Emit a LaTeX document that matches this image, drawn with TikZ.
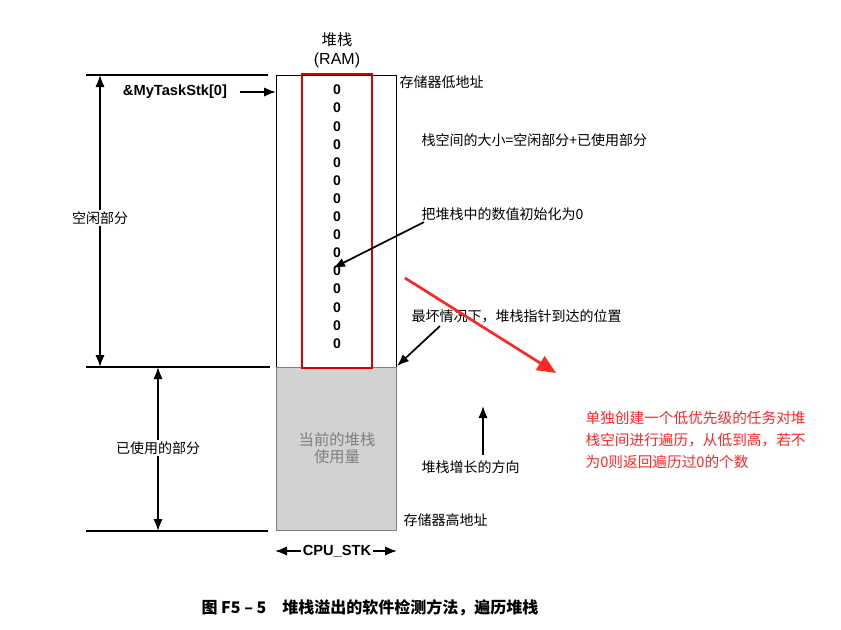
\documentclass[tikz,border=0pt]{standalone}
\usepackage{fontspec}
\setmainfont{Liberation Sans}
\newfontfamily\cjk{Noto Sans CJK SC}
\usetikzlibrary{arrows.meta}
\tikzset{
  lbl/.style={font=\cjk\fontsize{10.5}{12}\selectfont, inner sep=1pt},
  dim/.style={line width=1.3pt, {Latex[length=9pt,width=7pt]}-{Latex[length=9pt,width=7pt]}},
  ptr/.style={line width=1.3pt, -{Latex[length=9pt,width=7pt]}}
}
\begin{document}
\begin{tikzpicture}[x=0.75pt,y=-0.75pt]
        \useasboundingbox (0,0) rectangle (841,629);

        % stack body
        \fill[gray!35] (276,367) rectangle (396,530);
        \draw[gray] (276,367) rectangle (396,530);
        \draw (276,367) -- (276,75) -- (396,75) -- (396,367);
        \draw[red!85!black, line width=1.5pt] (302,74) rectangle (372,368);
        \foreach \k in {0,...,14}
          \node[font=\bfseries\fontsize{10.5}{12}\selectfont] at (337,{90+\k*18.1}) {0};
        \node (used) [lbl, text=gray, align=center, font=\cjk\fontsize{11.5}{13}\selectfont] at (337,448) {当前的堆栈\\使用量};

        \node (top) [lbl, font=\cjk\fontsize{11.5}{13}\selectfont] at (337,40) {堆栈};
        \node (ram) [font=\fontsize{12}{14}\selectfont] at (337,60) {(RAM)};

        % dimension lines
        \coordinate (t0) at (86,75);  \coordinate (t1) at (268,75);
        \coordinate (m0) at (86,367); \coordinate (m1) at (270,367);
        \coordinate (b0) at (86,531); \coordinate (b1) at (268,531);
        \draw[line width=1.3pt] (t0) -- (t1);
        \draw[line width=1.3pt] (m0) -- (m1);
        \draw[line width=1.3pt] (b0) -- (b1);
        \coordinate (fa) at (100,75); \coordinate (fb) at (100,367);
        \coordinate (ua) at (158,367); \coordinate (ub) at (158,531);
        \draw[dim] (fa) -- (fb);
        \draw[dim] (ua) -- (ub);
        \node (free) [lbl, fill=white] at (100,218) {空闲部分};
        \node (usedpart) [lbl, fill=white] at (158,448) {已使用的部分};

        \node (base) [font=\bfseries\fontsize{11}{12}\selectfont] at (175,92) {\&MyTaskStk[0]};
        \coordinate (bx) at (276,92);
        \draw[ptr] (base.east) ++(6pt,0) -- (bx);

        % notes on the right
        \node (low) [lbl, anchor=west] at (398,82) {存储器低地址};
        \node (size) [lbl, anchor=west] at (420,140) {栈空间的大小=空闲部分+已使用部分};
        \node (init) [lbl, anchor=west] at (420,214) {把堆栈中的数值初始化为0};
        \coordinate (ix) at (333,268);
        \draw[ptr] (init.south west) ++(3pt,0) -- (ix);
        \node (worst) [lbl, anchor=west] at (410,316) {最坏情况下，堆栈指针到达的位置};
        \coordinate (wx) at (397,366);
        \draw[ptr] (440,326) -- (wx);
        \coordinate (ga) at (483,455); \coordinate (gb) at (483,406);
        \draw[ptr] (ga) -- (gb);
        \node (grow) [lbl, anchor=west] at (420,467) {堆栈增长的方向};
        \node (high) [lbl, anchor=west] at (402,520) {存储器高地址};

        % width
        \node (cpu) [font=\bfseries\fontsize{11}{12}\selectfont, inner sep=1pt] at (337,551) {CPU\_STK};
        \coordinate (cl) at (275,551); \coordinate (cr) at (397,551);
        \draw[ptr] (cpu.west) -- (cl);
        \draw[ptr] (cpu.east) -- (cr);

        % annotation
        \coordinate (ra) at (405,278); \coordinate (rb) at (556,373);
        \draw[red!85!white, line width=2pt, -{Triangle[length=14pt,width=12pt]}] (ra) -- (rb);
        \node (note) [lbl, text=red!85!white, align=left, anchor=north west,
          font=\cjk\fontsize{11}{16.5}\selectfont] at (584,410)
          {单独创建一个低优先级的任务对堆\\栈空间进行遍历，从低到高，若不\\为0则返回遍历过0的个数};

        \node (cap) [font=\cjk\bfseries\fontsize{12}{14}\selectfont] at (370,608) {图 F5 – 5\quad 堆栈溢出的软件检测方法，遍历堆栈};
\end{tikzpicture}
\end{document}
